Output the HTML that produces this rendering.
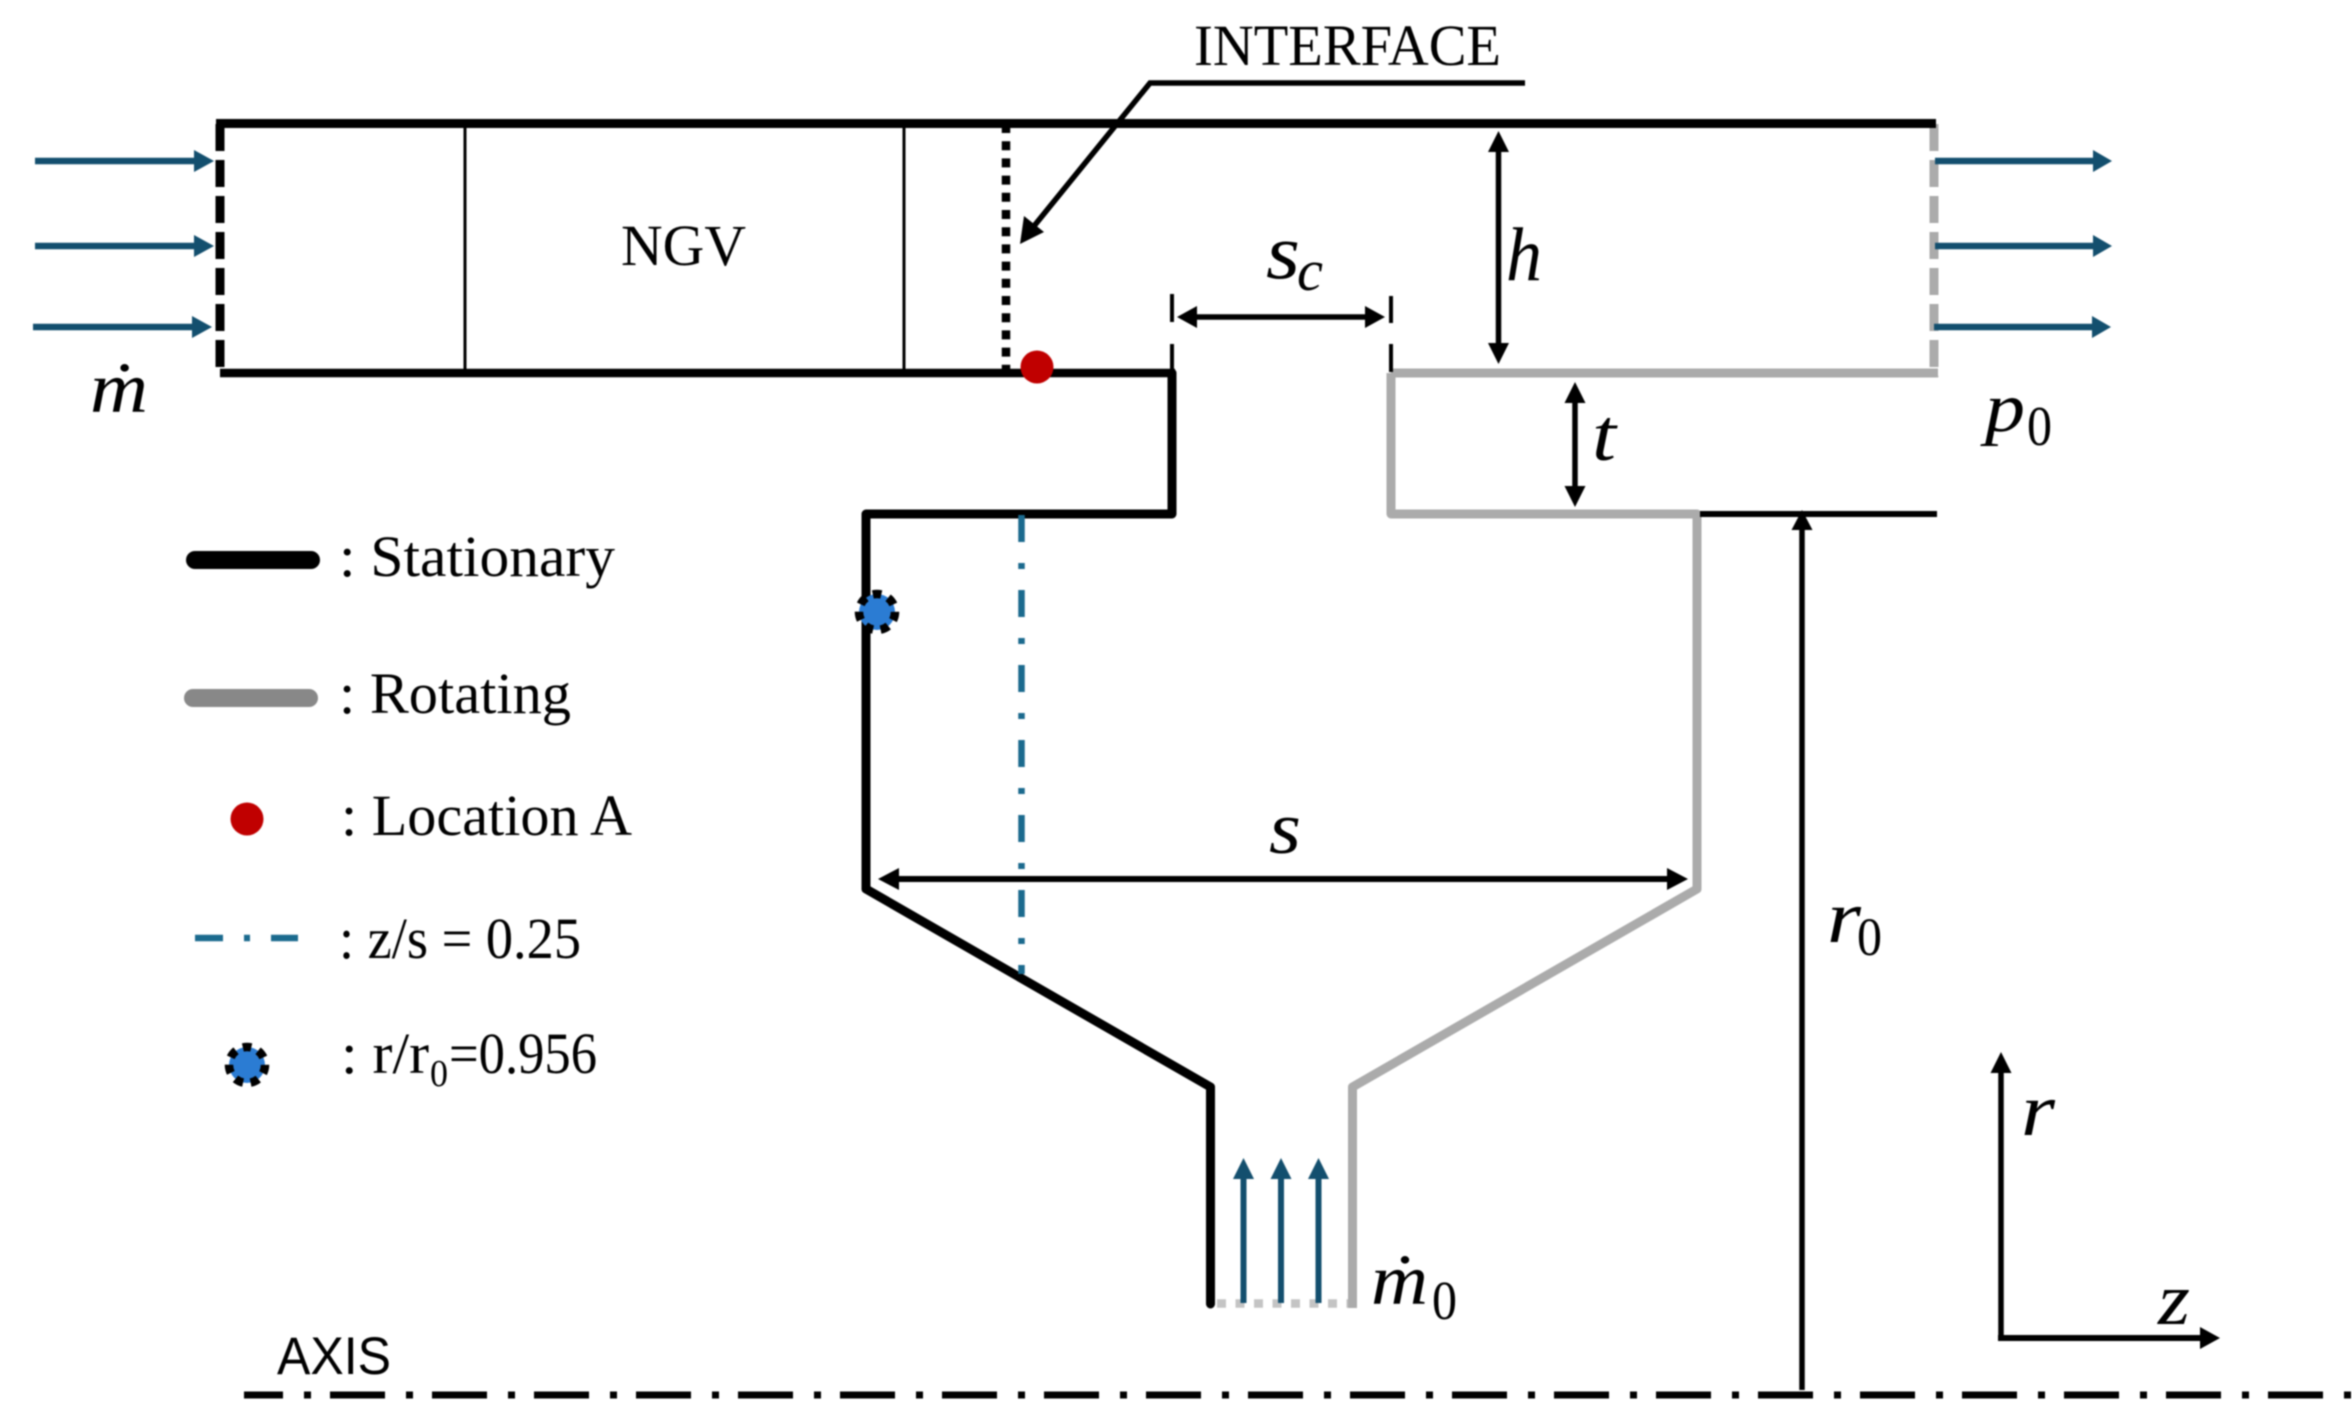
<!DOCTYPE html>
<html>
<head>
<meta charset="utf-8">
<style>
html,body{margin:0;padding:0;background:#fff;}
svg{display:block;filter:blur(0.7px);}
text{font-family:"Liberation Serif",serif;fill:#000;}
.i{font-style:italic;}
</style>
</head>
<body>
<svg width="2352" height="1428" viewBox="0 0 2352 1428" xmlns="http://www.w3.org/2000/svg">
<rect width="2352" height="1428" fill="#fff"/>

<!-- outlet -->
<line x1="1934" y1="124" x2="1934" y2="377" stroke="#ababab" stroke-width="9" stroke-dasharray="27 9"/>
<line x1="1391" y1="373" x2="1938" y2="373" stroke="#ababab" stroke-width="9"/>

<!-- NGV passage -->
<line x1="216" y1="123.5" x2="1936" y2="123.5" stroke="#000" stroke-width="9"/>
<line x1="220" y1="373" x2="1175" y2="373" stroke="#000" stroke-width="8.5"/>
<line x1="220" y1="124" x2="220" y2="376" stroke="#000" stroke-width="9" stroke-dasharray="27 9"/>
<line x1="465" y1="124" x2="465" y2="373" stroke="#000" stroke-width="3"/>
<line x1="904" y1="124" x2="904" y2="373" stroke="#000" stroke-width="3"/>
<line x1="1006" y1="124" x2="1006" y2="373" stroke="#000" stroke-width="8.5" stroke-dasharray="9 8.2"/>

<!-- rotating cavity -->
<polyline points="1391,373 1391,514 1697,514 1697,889 1352.5,1087 1352.5,1308" fill="none" stroke="#ababab" stroke-width="9" stroke-linejoin="round"/>
<!-- stationary cavity -->
<polyline points="1172,373 1172,514 866,514 866,889 1210.5,1087 1210.5,1304" fill="none" stroke="#000" stroke-width="9" stroke-linejoin="round" stroke-linecap="round"/>
<line x1="1217" y1="1303.5" x2="1348" y2="1303.5" stroke="#c4c4c4" stroke-width="8.5" stroke-dasharray="9 9.5"/>

<line x1="1700" y1="514" x2="1937" y2="514" stroke="#000" stroke-width="6"/>

<!-- sc ticks -->
<line x1="1172" y1="294" x2="1172" y2="322" stroke="#000" stroke-width="4"/>
<line x1="1172" y1="344" x2="1172" y2="373" stroke="#000" stroke-width="4"/>
<line x1="1391" y1="296" x2="1391" y2="323" stroke="#000" stroke-width="4"/>
<line x1="1391" y1="344" x2="1391" y2="372" stroke="#000" stroke-width="4"/>

<!-- interface leader -->
<polyline points="1525,83 1150,83 1030,231" fill="none" stroke="#000" stroke-width="5.5"/>
<polygon points="1020,244 1024,216 1044,232" fill="#000"/>

<!-- inlet and outlet arrows -->
<g stroke="#134f6e" stroke-width="6.5">
<line x1="35" y1="161" x2="196" y2="161"/>
<line x1="35" y1="246" x2="196" y2="246"/>
<line x1="33" y1="327" x2="194" y2="327"/>
<line x1="1935" y1="161" x2="2096" y2="161"/>
<line x1="1935" y1="246" x2="2096" y2="246"/>
<line x1="1934" y1="327" x2="2094" y2="327"/>
</g>
<g fill="#134f6e">
<polygon points="214,161 194,150 194,172"/>
<polygon points="214,246 194,235 194,257"/>
<polygon points="212,327 192,316 192,338"/>
<polygon points="2112,161 2093,150 2093,172"/>
<polygon points="2112,246 2093,235 2093,257"/>
<polygon points="2111,327 2092,316 2092,338"/>
</g>

<!-- bleed arrows -->
<g stroke="#134f6e" stroke-width="6">
<line x1="1243.5" y1="1175" x2="1243.5" y2="1303"/>
<line x1="1281" y1="1175" x2="1281" y2="1303"/>
<line x1="1318.5" y1="1175" x2="1318.5" y2="1303"/>
</g>
<g fill="#134f6e">
<polygon points="1243.5,1158 1233,1179 1254,1179"/>
<polygon points="1281,1158 1270.5,1179 1291.5,1179"/>
<polygon points="1318.5,1158 1308,1179 1329,1179"/>
</g>

<!-- dimension arrows -->
<g stroke="#000" stroke-width="5.5">
<line x1="1190" y1="317" x2="1372" y2="317"/>
<line x1="1498.5" y1="145" x2="1498.5" y2="350"/>
<line x1="1575" y1="396" x2="1575" y2="493"/>
<line x1="895" y1="879" x2="1671" y2="879" stroke-width="6"/>
<line x1="1802" y1="524" x2="1802" y2="1390" stroke-width="5.5"/>
<line x1="2001" y1="1066" x2="2001" y2="1341"/>
<line x1="1998" y1="1338" x2="2204" y2="1338" stroke-width="6"/>
</g>
<g fill="#000">
<polygon points="1177,317 1197,306 1197,328"/>
<polygon points="1385,317 1365,306 1365,328"/>
<polygon points="1498.5,131 1488,152 1509,152"/>
<polygon points="1498.5,364 1488,343 1509,343"/>
<polygon points="1575,382 1564.5,403 1585.5,403"/>
<polygon points="1575,507 1564.5,486 1585.5,486"/>
<polygon points="878,879 899,868 899,890"/>
<polygon points="1688,879 1667,868 1667,890"/>
<polygon points="1802,510 1791.5,530 1812.5,530"/>
<polygon points="2001,1052 1990.5,1073 2011.5,1073"/>
<polygon points="2220,1338 2200,1327 2200,1349"/>
</g>

<!-- axis -->
<line x1="244" y1="1395" x2="2352" y2="1395" stroke="#000" stroke-width="7" stroke-dasharray="55 21 7 19" stroke-dashoffset="16"/>

<!-- z/s line -->
<line x1="1021.5" y1="515" x2="1021.5" y2="974" stroke="#1b6a8e" stroke-width="6.5" stroke-dasharray="27 21 6 21"/>

<!-- markers -->
<circle cx="1037" cy="367" r="16.5" fill="#c00000"/>
<circle cx="877" cy="612" r="18" fill="#2b7cd3" stroke="#000" stroke-width="8.5" stroke-dasharray="8.5 7.6"/>

<!-- legend -->
<line x1="195" y1="560" x2="311" y2="560" stroke="#000" stroke-width="18" stroke-linecap="round"/>
<line x1="193" y1="698" x2="309" y2="698" stroke="#888" stroke-width="18" stroke-linecap="round"/>
<circle cx="247" cy="819" r="16.5" fill="#c00000"/>
<line x1="195" y1="938" x2="298" y2="938" stroke="#1b6a8e" stroke-width="6.5" stroke-dasharray="28 21 6 21"/>
<circle cx="247" cy="1065" r="18" fill="#2b7cd3" stroke="#000" stroke-width="8.5" stroke-dasharray="8.5 7.6"/>

<!-- text -->
<text x="1194" y="65" font-size="58" textLength="307" lengthAdjust="spacingAndGlyphs">INTERFACE</text>
<text x="621" y="265" font-size="58" textLength="125" lengthAdjust="spacingAndGlyphs">NGV</text>
<text x="339" y="576" font-size="58" textLength="276" lengthAdjust="spacingAndGlyphs">: Stationary</text>
<text x="339" y="713" font-size="58" textLength="232" lengthAdjust="spacingAndGlyphs">: Rotating</text>
<text x="341" y="835" font-size="58" textLength="291" lengthAdjust="spacingAndGlyphs">: Location A</text>
<text x="339" y="958" font-size="58" textLength="242" lengthAdjust="spacingAndGlyphs">: z/s = 0.25</text>
<text x="341" y="1073" font-size="58" textLength="88" lengthAdjust="spacingAndGlyphs">: r/r</text>
<text x="430" y="1086" font-size="38" textLength="18" lengthAdjust="spacingAndGlyphs">0</text>
<text x="449" y="1073" font-size="58" textLength="148" lengthAdjust="spacingAndGlyphs">=0.956</text>
<text x="277" y="1374" font-size="53" textLength="114" lengthAdjust="spacingAndGlyphs" style="font-family:'Liberation Sans',sans-serif">AXIS</text>

<text class="i" x="90" y="412" font-size="72" textLength="58" lengthAdjust="spacingAndGlyphs">ṁ</text>
<text class="i" x="1266" y="278" font-size="78" textLength="34" lengthAdjust="spacingAndGlyphs">s</text>
<text class="i" x="1297" y="290" font-size="58" textLength="26" lengthAdjust="spacingAndGlyphs">c</text>
<text class="i" x="1506" y="280" font-size="76" textLength="36" lengthAdjust="spacingAndGlyphs">h</text>
<text class="i" x="1592" y="460" font-size="74" textLength="24" lengthAdjust="spacingAndGlyphs">t</text>
<text class="i" x="1985" y="431" font-size="70" textLength="40" lengthAdjust="spacingAndGlyphs">p</text>
<text x="2027" y="445" font-size="56" textLength="25" lengthAdjust="spacingAndGlyphs">0</text>
<text class="i" x="1269" y="853" font-size="74" textLength="32" lengthAdjust="spacingAndGlyphs">s</text>
<text class="i" x="1827" y="942" font-size="74" textLength="34" lengthAdjust="spacingAndGlyphs">r</text>
<text x="1857" y="955" font-size="54" textLength="25" lengthAdjust="spacingAndGlyphs">0</text>
<text class="i" x="2021" y="1135" font-size="74" textLength="34" lengthAdjust="spacingAndGlyphs">r</text>
<text class="i" x="2158" y="1324" font-size="74" textLength="32" lengthAdjust="spacingAndGlyphs">z</text>
<text class="i" x="1371" y="1304" font-size="72" textLength="57" lengthAdjust="spacingAndGlyphs">ṁ</text>
<text x="1432" y="1319" font-size="55" textLength="25" lengthAdjust="spacingAndGlyphs">0</text>
</svg>
</body>
</html>
